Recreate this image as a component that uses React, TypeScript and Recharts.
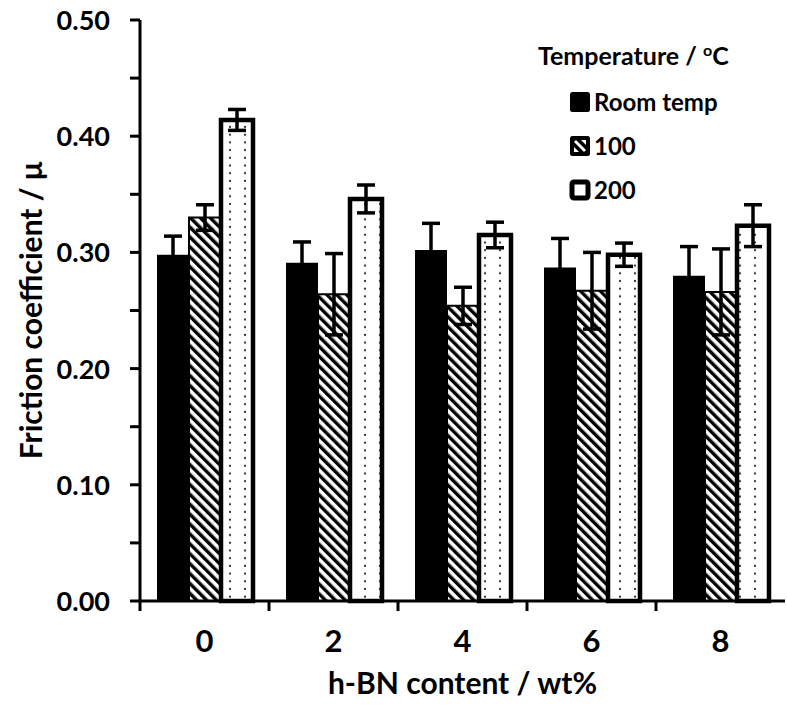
import React from 'react';
import { BarChart, Bar, XAxis, YAxis, ErrorBar } from 'recharts';

const categories = ['0', '2', '4', '6', '8'];
const roomTemp = [0.298, 0.291, 0.302, 0.287, 0.28];
const roomTempErr = [0.016, 0.018, 0.023, 0.025, 0.025];
const temp100 = [0.33, 0.264, 0.254, 0.267, 0.266];
const temp100Err = [0.011, 0.035, 0.016, 0.033, 0.037];
const temp200 = [0.414, 0.346, 0.315, 0.298, 0.323];
const temp200Err = [0.009, 0.012, 0.011, 0.01, 0.018];
const yTicks = [0, 0.05, 0.1, 0.15, 0.2, 0.25, 0.3, 0.35, 0.4, 0.45, 0.5];
const seriesNames = ['Room temp', '100', '200'];
const legendTitle = 'Temperature / ';
const xTitle = 'h-BN content / wt%';
const yTitle = 'Friction coefficient / \u03bc';

const data = categories.map((c, i) => ({
  cat: c,
  rt: roomTemp[i],
  rtErr: roomTempErr[i],
  t100: temp100[i],
  t100Err: temp100Err[i],
  t200: temp200[i],
  t200Err: temp200Err[i],
}));

const W = 787;
const H = 707;
const M = { top: 20, right: 2, bottom: 46, left: 0 };
const Y_W = 140;
const X_H = 60;
const FONT = 'Lato, "Open Sans", "Liberation Sans", sans-serif';
const BAND = (W - M.left - M.right - Y_W) / categories.length;

const Patterns = () => (
  <defs>
    <pattern id="hatch" patternUnits="userSpaceOnUse" width="7" height="7" patternTransform="rotate(-45)">
      <rect x="0" y="0" width="7" height="7" fill="#fff" />
      <rect x="0" y="0" width="3.4" height="7" fill="#000" />
    </pattern>
    <pattern id="dots" patternUnits="userSpaceOnUse" width="15" height="7.7">
      <rect x="0" y="0" width="15" height="7.7" fill="#fff" />
      <circle cx="5" cy="3.8" r="1.1" fill="#222" />
    </pattern>
  </defs>
);

const XTick = (props: any) => {
  const { x, y, payload } = props;
  const lx = x - BAND / 2;
  return (
    <g>
      <line x1={lx} x2={lx} y1={y} y2={y + 10} stroke="#000" strokeWidth={3} />
      <text x={x} y={y + 51} textAnchor="middle" fontFamily={FONT} fontWeight="bold" fontSize={31} fill="#000">
        {payload.value}
      </text>
    </g>
  );
};

const YTick = (props: any) => {
  const { y, payload } = props;
  const v = payload.value;
  const major = Math.abs(Math.round(v * 10) - v * 10) < 1e-6;
  const ax = Y_W + M.left;
  return (
    <g>
      <line x1={ax - 10} x2={ax} y1={y} y2={y} stroke="#000" strokeWidth={3} />
      {major && (
        <text x={ax - 30} y={y + 10} textAnchor="end" fontFamily={FONT} fontWeight="bold" fontSize={27} fill="#000">
          {v.toFixed(2)}
        </text>
      )}
    </g>
  );
};

const LegendMarker = ({ kind }: { kind: number }) => (
  <svg width="22" height="22" style={{ display: 'block' }}>
    {kind === 0 && <rect x="1" y="1" width="20" height="20" rx="2.5" fill="#000" />}
    {kind === 1 && (
      <>
        <rect x="1" y="1" width="20" height="20" rx="2.5" fill="#000" />
        <polygon points="5,7 7,5 17,15 15,17" fill="#fff" />
        <polygon points="5,12 10,17 5,17" fill="#fff" />
        <polygon points="12,5 17,5 17,10" fill="#fff" />
      </>
    )}
    {kind === 2 && <rect x="3" y="3" width="16" height="16" rx="2" fill="#fff" stroke="#000" strokeWidth={5} />}
  </svg>
);

const LegendBox = () => (
  <div
    style={{
      position: 'absolute',
      left: 538,
      top: 40,
      width: 245,
      fontFamily: FONT,
      fontWeight: 'bold',
      color: '#000',
    }}
  >
    <div style={{ fontSize: 25, lineHeight: '30px', whiteSpace: 'nowrap' }}>
      {legendTitle}
      <span style={{ fontSize: 16, position: 'relative', top: -9 }}>o</span>C
    </div>
    <div style={{ marginTop: 6 }}>
      {seriesNames.map((n, i) => (
        <div key={n} style={{ display: 'flex', alignItems: 'center', height: 44, marginLeft: 31 }}>
          <LegendMarker kind={i} />
          <span style={{ fontSize: 24, marginLeft: 3, lineHeight: '26px' }}>{n}</span>
        </div>
      ))}
    </div>
  </div>
);

export default function App() {
  return (
    <div style={{ position: 'absolute', left: 0, top: 0, width: W, height: H, background: '#fff' }}>
      <BarChart width={W} height={H} data={data} margin={M} barGap={0} barCategoryGap={17}>
        <Patterns />
        <XAxis
          dataKey="cat"
          height={X_H}
          tickSize={0}
          tickMargin={0}
          tick={<XTick />}
          axisLine={{ stroke: '#000', strokeWidth: 3 }}
          label={{
            content: (p: any) => {
              const vb = p.viewBox;
              return (
                <text x={vb.x + vb.width / 2} y={vb.y + 93} textAnchor="middle" fontFamily={FONT} fontWeight="bold" fontSize={30} fill="#000">
                  {xTitle}
                </text>
              );
            },
          }}
        />
        <YAxis
          width={Y_W}
          domain={[0, 0.5]}
          ticks={yTicks}
          interval={0}
          tickSize={0}
          tickMargin={0}
          tick={<YTick />}
          axisLine={{ stroke: '#000', strokeWidth: 3 }}
          label={{
            content: (p: any) => {
              const vb = p.viewBox;
              const cx = 42;
              const cy = vb.y + vb.height / 2;
              return (
                <text x={cx} y={cy} transform={`rotate(-90 ${cx} ${cy})`} textAnchor="middle" fontFamily={FONT} fontWeight="bold" fontSize={30} fill="#000">
                  {yTitle}
                </text>
              );
            },
          }}
        />
        <Bar dataKey="rt" name={seriesNames[0]} fill="#000" isAnimationActive={false}>
          <ErrorBar dataKey="rtErr" width={9} stroke="#000" strokeWidth={3.5} direction="y" />
        </Bar>
        <Bar dataKey="t100" name={seriesNames[1]} fill="url(#hatch)" stroke="#000" strokeWidth={2} isAnimationActive={false}>
          <ErrorBar dataKey="t100Err" width={9} stroke="#000" strokeWidth={3.5} direction="y" />
        </Bar>
        <Bar dataKey="t200" name={seriesNames[2]} fill="url(#dots)" stroke="#000" strokeWidth={4.5} isAnimationActive={false}>
          <ErrorBar dataKey="t200Err" width={9} stroke="#000" strokeWidth={3.5} direction="y" />
        </Bar>
      </BarChart>
      <LegendBox />
    </div>
  );
}
